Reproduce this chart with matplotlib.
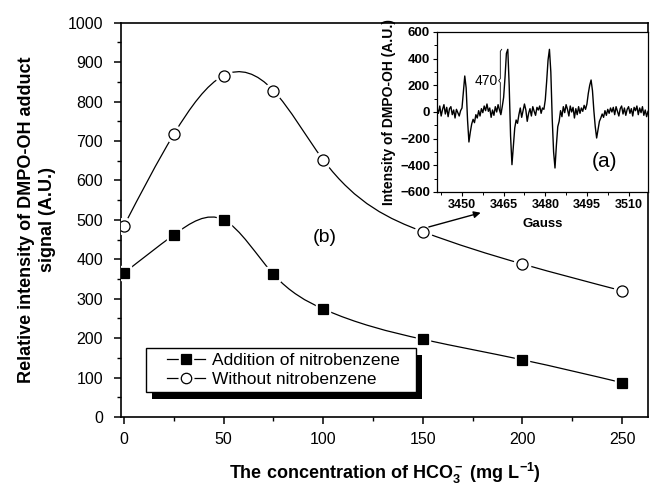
import numpy as np
import matplotlib
matplotlib.use("Agg")
import matplotlib.pyplot as plt
from matplotlib.path import Path
from matplotlib.patches import PathPatch, Rectangle
from matplotlib.lines import Line2D
from matplotlib.legend_handler import HandlerTuple

# main panel (b): concentration of HCO3- vs. DMPO-OH signal
conc = [0, 25, 50, 75, 100, 150, 200, 250]
with_nb = [365, 462, 500, 362, 274, 197, 145, 87]
without_nb = [485, 717, 866, 828, 652, 470, 388, 320]
series_labels = ['Addition of nitrobenzene', 'Without nitrobenzene']

# inset (a): EPR spectrum
gauss = [
    3440.0, 3440.5, 3441.0, 3441.5, 3442.0, 3442.5, 3443.0, 3443.5, 3444.0, 3444.5,
    3445.0, 3445.5, 3446.0, 3446.5, 3447.0, 3447.5, 3448.0, 3448.5, 3449.0, 3449.5,
    3450.0, 3450.5, 3451.0, 3451.5, 3452.0, 3452.5, 3453.0, 3453.5, 3454.0, 3454.5,
    3455.0, 3455.5, 3456.0, 3456.5, 3457.0, 3457.5, 3458.0, 3458.5, 3459.0, 3459.5,
    3460.0, 3460.5, 3461.0, 3461.5, 3462.0, 3462.5, 3463.0, 3463.5, 3464.0, 3464.5,
    3465.0, 3465.5, 3466.0, 3466.5, 3467.0, 3467.5, 3468.0, 3468.5, 3469.0, 3469.5,
    3470.0, 3470.5, 3471.0, 3471.5, 3472.0, 3472.5, 3473.0, 3473.5, 3474.0, 3474.5,
    3475.0, 3475.5, 3476.0, 3476.5, 3477.0, 3477.5, 3478.0, 3478.5, 3479.0, 3479.5,
    3480.0, 3480.5, 3481.0, 3481.5, 3482.0, 3482.5, 3483.0, 3483.5, 3484.0, 3484.5,
    3485.0, 3485.5, 3486.0, 3486.5, 3487.0, 3487.5, 3488.0, 3488.5, 3489.0, 3489.5,
    3490.0, 3490.5, 3491.0, 3491.5, 3492.0, 3492.5, 3493.0, 3493.5, 3494.0, 3494.5,
    3495.0, 3495.5, 3496.0, 3496.5, 3497.0, 3497.5, 3498.0, 3498.5, 3499.0, 3499.5,
    3500.0, 3500.5, 3501.0, 3501.5, 3502.0, 3502.5, 3503.0, 3503.5, 3504.0, 3504.5,
    3505.0, 3505.5, 3506.0, 3506.5, 3507.0, 3507.5, 3508.0, 3508.5, 3509.0, 3509.5,
    3510.0, 3510.5, 3511.0, 3511.5, 3512.0, 3512.5, 3513.0, 3513.5, 3514.0, 3514.5,
    3515.0, 3515.5, 3516.0, 3516.5, 3517.0,
]
epr_signal = [
    10, -25, 30, -10, 45, -30, 20, 55, -15, 35,
    -35, 25, 40, -20, 15, -45, 20, -5, -30, 10,
    30, 150, 270, 180, -60, -225, -150, -90, -55, -80,
    -20, -45, 10, -30, 25, -5, 45, 10, 60, 5,
    30, -40, 15, -25, 40, 0, 55, 15, -20, 40,
    110, 260, 440, 470, 200, -180, -395, -260, -120, -60,
    -85, -20, 30, -40, 10, 60, 15, -70, -10, 25,
    -30, 40, 5, -25, 35, 15, 45, -10, 30, 20,
    90, 230, 390, 470, 300, -50, -300, -420, -250, -110,
    -70, 10, -35, 40, -5, 55, 20, -30, 45, 0,
    35, -45, 25, -20, 40, -10, 30, 5, 50, 20,
    60, 140, 200, 240, 160, 10, -110, -195, -130, -70,
    -45, -15, -40, 10, -25, 20, -10, 30, 0, 35,
    -20, 40, 5, -30, 25, 45, -15, 30, -25, 20,
    40, -10, 25, -30, 35, 10, 45, -20, 30, -5,
    40, -25, 15, -35, 5,
]


def spline_path(x, y):
    # natural cubic spline drawn as bezier segments (Origin "spline" connect)
    x = np.asarray(x, float)
    y = np.asarray(y, float)
    n = len(x)
    h = np.diff(x)
    A = np.zeros((n, n))
    b = np.zeros(n)
    A[0, 0] = A[-1, -1] = 1
    for i in range(1, n - 1):
        A[i, i - 1] = h[i - 1]
        A[i, i] = 2 * (h[i - 1] + h[i])
        A[i, i + 1] = h[i]
        b[i] = 6 * ((y[i + 1] - y[i]) / h[i] - (y[i] - y[i - 1]) / h[i - 1])
    M = np.linalg.solve(A, b)
    d = np.empty(n)
    d[:-1] = (y[1:] - y[:-1]) / h - h * (2 * M[:-1] + M[1:]) / 6
    d[-1] = (y[-1] - y[-2]) / h[-1] + h[-1] * (M[-2] + 2 * M[-1]) / 6
    verts = [(x[0], y[0])]
    codes = [Path.MOVETO]
    for i in range(n - 1):
        verts += [(x[i] + h[i] / 3, y[i] + d[i] * h[i] / 3),
                  (x[i + 1] - h[i] / 3, y[i + 1] - d[i + 1] * h[i] / 3),
                  (x[i + 1], y[i + 1])]
        codes += [Path.CURVE4] * 3
    return Path(verts, codes)


def main():
    plt.rcParams['font.family'] = ['Liberation Sans', 'DejaVu Sans']
    plt.rcParams['mathtext.fontset'] = 'custom'
    plt.rcParams['mathtext.default'] = 'bf'
    plt.rcParams['mathtext.bf'] = 'Liberation Sans:bold'
    plt.rcParams['mathtext.rm'] = 'Liberation Sans:bold'

    fig = plt.figure(figsize=(6.5, 4.86), dpi=100)
    ax = fig.add_axes([121 / 650, 1 - 417 / 486, 527 / 650, (417 - 22.7) / 486])

    # curves with white gap around the markers
    for yv, mk, fc in [(with_nb, 's', 'black'), (without_nb, 'o', 'white')]:
        ax.add_patch(PathPatch(spline_path(conc, yv), facecolor='none',
                               edgecolor='black', lw=0.9, zorder=2))
        ax.plot(conc, yv, ls='none', marker=mk, ms=12 if mk == 'o' else 10,
                color='white', zorder=3)
        ax.plot(conc, yv, ls='none', marker=mk, ms=8 if mk == 'o' else 6.5,
                mfc=fc, mec='black', mew=0.9, zorder=4)

    ax.set_xlim(-1.5, 263)
    ax.set_ylim(0, 1000)
    ax.set_xticks(range(0, 251, 50))
    ax.set_xticks(range(25, 251, 50), minor=True)
    ax.set_yticks(range(0, 1001, 100))
    ax.set_yticks(range(50, 1000, 100), minor=True)
    ax.tick_params(which='major', direction='out', length=5, width=1.1,
                   labelsize=11.5, top=False, right=False)
    ax.tick_params(axis='y', which='major', pad=8)
    ax.tick_params(axis='x', which='major', pad=6)
    ax.tick_params(which='minor', direction='out', length=3, width=1.0,
                   top=False, right=False)
    for s in ax.spines.values():
        s.set_linewidth(1.2)

    ax.set_xlabel(r'The concentration of HCO$_3^-$ (mg L$^{-1}$)',
                  fontsize=13, fontweight='bold', labelpad=10)
    ax.set_ylabel('Relative intensity of DMPO-OH adduct\nsignal (A.U.)',
                  fontsize=13, fontweight='bold', labelpad=8, linespacing=1.3)

    ax.text(101, 455, '(b)', fontsize=14, ha='center', va='center')
    ax.annotate('', xy=(179, 518), xytext=(153, 482),
                arrowprops=dict(arrowstyle='-|>', color='black', lw=1,
                                mutation_scale=10, shrinkA=0, shrinkB=0))

    # legend: line - marker - line with gaps, own frame + black drop shadow
    handles = []
    for mk, fc, ms in [('s', 'black', 6.5), ('o', 'white', 7.5)]:
        gap = Line2D([], [], color='black', lw=0.9, marker=mk, ms=ms + 3,
                     mfc='white', mec='white')
        mark = Line2D([], [], ls='none', marker=mk, ms=ms, mfc=fc,
                      mec='black', mew=0.9)
        handles.append((gap, mark))
    axw = ax.get_window_extent()
    leg = ax.legend(handles, series_labels, loc='upper left',
                    bbox_to_anchor=((167 - 121) / axw.width,
                                    (417 - 353) / axw.height),
                    borderaxespad=0, borderpad=0,
                    handler_map={tuple: HandlerTuple(ndivide=1, pad=0)},
                    fontsize=12.5, frameon=False, handlelength=2.2,
                    handletextpad=0.4, labelspacing=0.2)
    leg.set_zorder(7)
    fig.canvas.draw()
    bb = leg.get_window_extent()
    pl, pr, pv = 21, 16, 5
    fx0, fy0 = bb.x0 - pl, bb.y0 - pv
    fw, fh = bb.width + pl + pr, bb.height + 2 * pv
    to_ax = ax.transAxes.inverted()
    (ax0, ay0), (ax1, ay1) = to_ax.transform([(fx0, fy0), (fx0 + fw, fy0 + fh)])
    dx, dy = 6 / axw.width, 7 / axw.height
    ax.add_patch(Rectangle((ax0 + dx, ay0 - dy), ax1 - ax0, ay1 - ay0,
                           transform=ax.transAxes, facecolor='black',
                           edgecolor='none', zorder=5, clip_on=False))
    ax.add_patch(Rectangle((ax0, ay0), ax1 - ax0, ay1 - ay0,
                           transform=ax.transAxes, facecolor='white',
                           edgecolor='black', lw=1.0, zorder=6, clip_on=False))

    # inset (a)
    ins = fig.add_axes([437 / 650, 1 - 192 / 486, 211 / 650, 160 / 486])
    ins.plot(gauss, epr_signal, color='black', lw=1.0)
    ins.set_xlim(3441, 3517)
    ins.set_ylim(-600, 600)
    ins.set_xticks(range(3450, 3511, 15))
    ins.set_xticks(np.arange(3442.5, 3517, 15), minor=True)
    ins.set_yticks(range(-600, 601, 200))
    ins.set_yticks(range(-500, 600, 200), minor=True)
    ins.tick_params(which='major', direction='out', length=3, width=0.8,
                    pad=2, top=False, right=False)
    ins.tick_params(axis='x', labelsize=9)
    ins.tick_params(axis='y', labelsize=9.5)
    ins.tick_params(which='minor', direction='out', length=2, width=0.7,
                    top=False, right=False)
    for lab in ins.get_xticklabels() + ins.get_yticklabels():
        lab.set_fontweight('bold')
    for s in ins.spines.values():
        s.set_linewidth(0.9)
    ins.set_xlabel('Gauss', fontsize=9.5, fontweight='bold', labelpad=5)
    ins.set_ylabel('Intensity of DMPO-OH (A.U.)', fontsize=10,
                   fontweight='bold', labelpad=3)

    # bracket marking the 470 peak height
    bx = 3463.8
    ins.plot([bx + 0.5, bx, bx, bx - 0.6, bx, bx, bx + 0.5],
             [470, 455, 250, 235, 220, 15, 0], color='black', lw=0.6)
    ins.text(bx - 1.0, 235, '470', fontsize=10, ha='right', va='center')
    ins.text(3501.5, -375, '(a)', fontsize=15, ha='center', va='center')

    fig.savefig('out.png', dpi=100)


if __name__ == "__main__":
    main()
